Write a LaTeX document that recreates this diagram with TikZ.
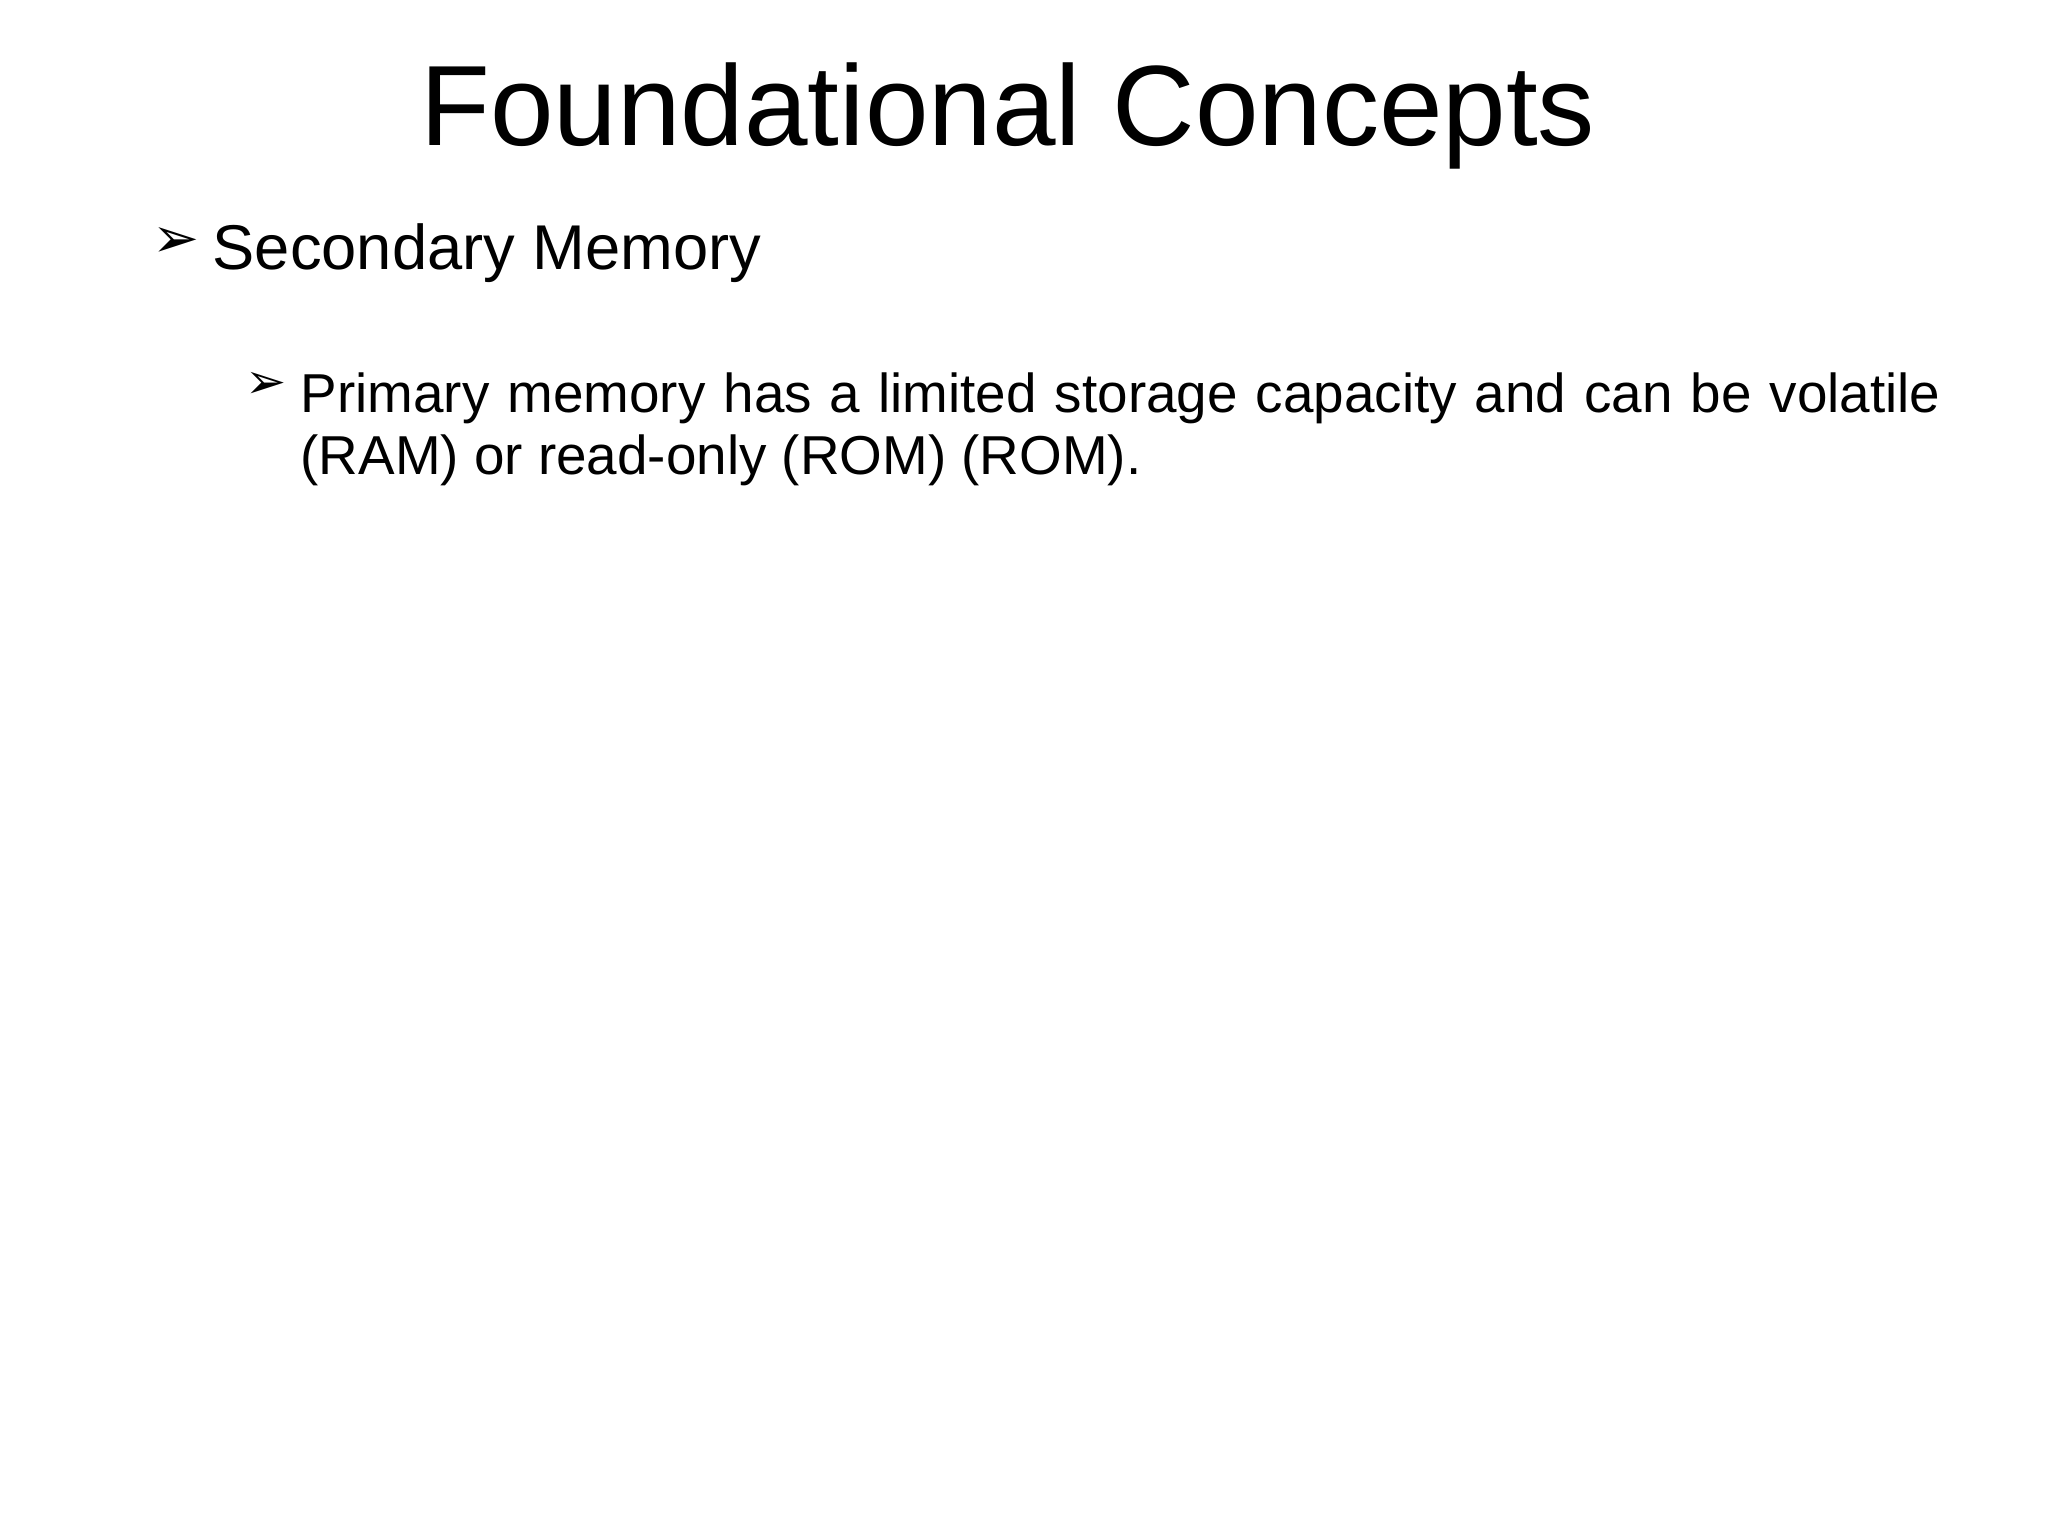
\documentclass[tikz,border=0pt]{standalone}
\usepackage{fontspec}
\setmainfont{Liberation Sans}
\newfontfamily\symfont{DejaVu Sans}
\begin{document}
\begin{tikzpicture}[
  txt/.style={anchor=base west, inner sep=0pt},
  bul/.style={anchor=base west, inner sep=0pt, font=\symfont}]
\useasboundingbox[fill=white] (0,0) rectangle (20.48,-15.36);
\node[anchor=base, inner sep=0pt, font=\fontsize{32.5}{38}\selectfont] (title) at (10.08,-1.46) {Foundational Concepts};
\node[bul, font=\symfont\bfseries\fontsize{16}{19}\selectfont] (b1) at (1.52,-2.58) {➢};
\node[txt, font=\fontsize{18}{22}\selectfont] (t1) at (2.12,-2.70) {Secondary Memory};
\node[bul, font=\symfont\bfseries\fontsize{14}{17}\selectfont] (b2) at (2.45,-3.99) {➢};
\node[anchor=north west, inner sep=0pt, text width=16.4cm, align=justify, font=\fontsize{15.6}{17.6}\selectfont] (t2) at (3.0,-3.72)
 {Primary memory has a limited storage capacity and can be volatile (RAM) or read-only (ROM) (ROM).};
\end{tikzpicture}
\end{document}
